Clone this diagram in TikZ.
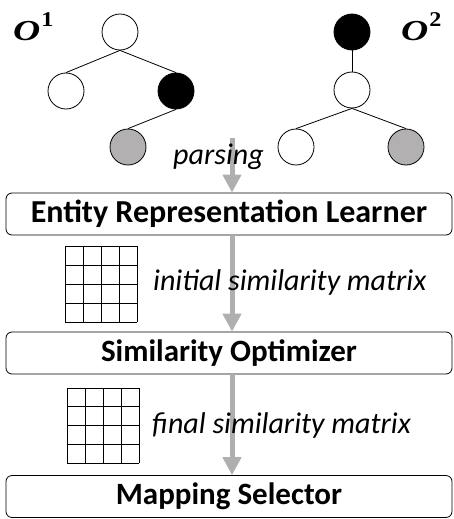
\documentclass[tikz,border=0pt]{standalone}
\usepackage{fontspec}
\usepackage{graphicx}
\setmainfont{Carlito}
\newfontfamily\oserif{Liberation Serif}
\usetikzlibrary{arrows.meta}
\definecolor{arrowgray}{RGB}{175,175,175}
\definecolor{nodegray}{RGB}{178,176,176}
\newcommand{\olab}[1]{\scalebox{1.3}[1]{\fontsize{29}{30}\selectfont\bfseries\itshape O}\kern1pt\raisebox{14pt}{\scalebox{1.15}[1]{\fontsize{21}{22}\selectfont\bfseries #1}}}
\tikzset{
  tnode/.style={circle,draw,line width=0.8pt,minimum size=36pt,inner sep=0pt},
  whitenode/.style={tnode,fill=white},
  blacknode/.style={tnode,fill=black},
  graynode/.style={tnode,fill=nodegray},
  tedge/.style={line width=0.8pt},
  stagebox/.style={draw,line width=0.8pt,rounded corners=6pt,minimum width=446pt,minimum height=42pt,inner sep=0pt,font=\fontsize{31}{32}\selectfont\bfseries},
  flowarrow/.style={draw=arrowgray,line width=5pt,-{Triangle[width=18pt,length=18pt]}},
  ilabel/.style={font=\fontsize{30}{32}\selectfont\itshape,inner sep=0pt},
  olabel/.style={font=\oserif,inner sep=0pt},
  gridline/.style={line width=0.8pt}
}
\begin{document}
\begin{tikzpicture}[x=1pt,y=-1pt]
\useasboundingbox (0,0) rectangle (454,519);
% tree 1
\node[whitenode] (r1) at (120,32) {};
\node[whitenode] (l1) at (66,91) {};
\node[blacknode] (b1) at (176,91) {};
\node[graynode] (g1) at (128,147) {};
\draw[tedge] (r1.south) -- (l1.north);
\draw[tedge] (r1.south) -- (b1.north);
\draw[tedge] (b1.south) -- (g1.north);
\node[olabel,anchor=base west] (oa) at (13,41) {\olab{1}};
% tree 2
\node[blacknode] (r2) at (352,32) {};
\node[whitenode] (m2) at (352,90) {};
\node[whitenode] (l2) at (296,147) {};
\node[graynode] (g2) at (406,147) {};
\draw[tedge] (r2.south) -- (m2.north);
\draw[tedge] (m2.south) -- (l2.north);
\draw[tedge] (m2.south) -- (g2.north);
\node[olabel,anchor=base west] (ob) at (401,41) {\olab{2}};
% boxes
\node[stagebox,font=\fontsize{32}{33}\selectfont\bfseries] (erl) at (229,214) {Entity Representation Learner};
\node[stagebox] (so) at (229,353) {Similarity Optimizer};
\node[stagebox] (ms) at (229,496.5) {Mapping Selector};
% arrows
\coordinate (astart) at (232,138);
\draw[flowarrow] (astart) -- (astart |- erl.north);
\draw[flowarrow] (astart |- erl.south) -- (astart |- so.north);
\draw[flowarrow] (astart |- so.south) -- (astart |- ms.north);
% labels
\node[ilabel,anchor=west] (parse) at (173,157) {parsing};
\node[ilabel,anchor=west] (init) at (153,282) {initial similarity matrix};
\node[ilabel,anchor=west] (fin) at (152,425) {final similarity matrix};
% matrices
\foreach \i in {0,...,4} {
  \draw[gridline] ({65+18*\i},246) -- ({65+18*\i},322);
  \draw[gridline] (65,{246+19*\i}) -- (137,{246+19*\i});
  \draw[gridline] ({67+18*\i},388) -- ({67+18*\i},463);
  \draw[gridline] (67,{388+18.75*\i}) -- (139,{388+18.75*\i});
}
\end{tikzpicture}
\end{document}
